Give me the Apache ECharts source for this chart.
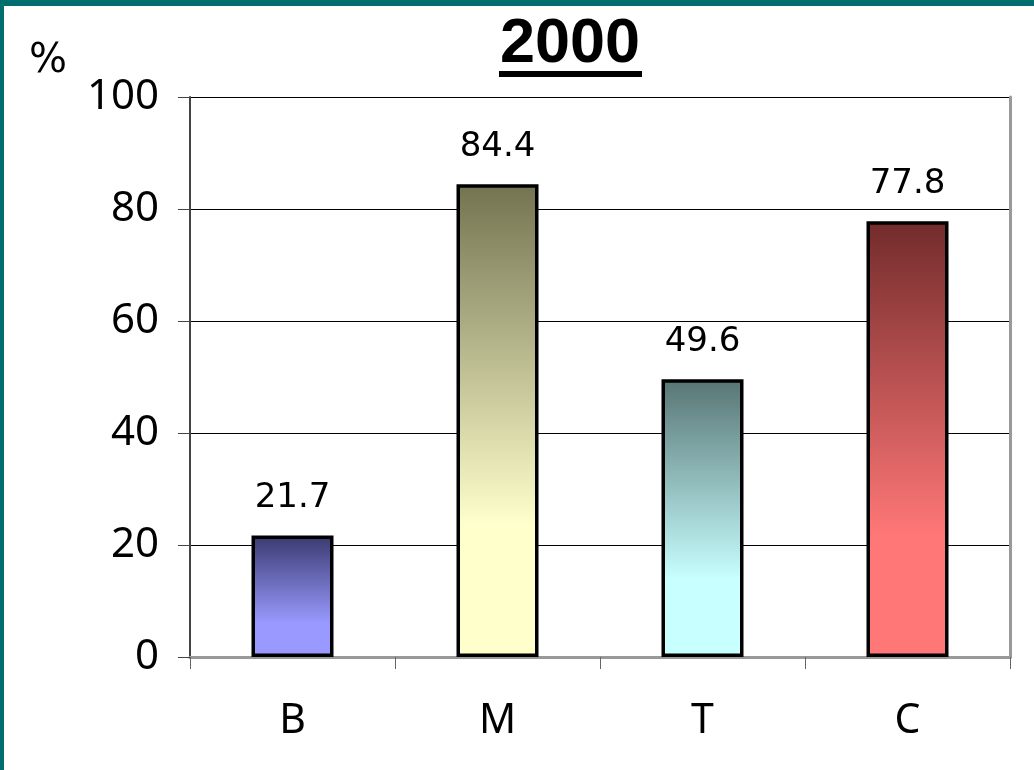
<!DOCTYPE html>
<html>
<head>
<meta charset="utf-8">
<script src="https://cdn.jsdelivr.net/npm/echarts@6/dist/echarts.min.js"></script>
<style>
    html, body {
        margin: 0;
        padding: 0;
        background: #fff;
    }
    #frame {
        width: 1030px;
        height: 764px;
        border-left: 4px solid #006e6e;
        border-top: 6px solid #006e6e;
    }
    #chart {
        width: 1030px;
        height: 764px;
    }
</style>
</head>
<body>
<div id="frame"><div id="chart"></div></div>
<script>
    var categories = ['B', 'M', 'T', 'C'];
    var values = [21.7, 84.4, 49.6, 77.8];
    var yTicks = [0, 20, 40, 60, 80, 100];
    // dark top colour, light bottom colour for each bar
    var topColors = ['#3a3a70', '#737351', '#587575', '#722b2b'];
    var bottomColors = ['#9999ff', '#ffffcc', '#c8ffff', '#ff7777'];

    var myChart = echarts.init(document.getElementById('chart'));

    var barData = values.map(function(v, i) {
        return {
            value: v,
            itemStyle: {
                color: new echarts.graphic.LinearGradient(0, 0, 0, 1, [
                    {offset: 0, color: topColors[i]},
                    {offset: 0.72, color: bottomColors[i]},
                    {offset: 1, color: bottomColors[i]}
                ])
            }
        };
    });

    var option = {
        animation: false,
        backgroundColor: '#fff',
        grid: {
            left: 186,
            top: 91,
            right: 24,
            bottom: 113
        },
        graphic: [
            {
                type: 'text',
                left: 25,
                top: 36,
                style: {
                    text: '%',
                    font: '40px "DejaVu Sans"',
                    fill: '#000'
                }
            },
            {
                type: 'text',
                x: 566,
                y: 39,
                style: {
                    text: '2000',
                    font: 'bold 63px "Liberation Sans"',
                    fill: '#000',
                    align: 'center',
                    verticalAlign: 'middle'
                }
            },
            {
                type: 'rect',
                shape: {x: 495, y: 65, width: 143, height: 6},
                style: {fill: '#000'}
            }
        ],
        xAxis: [{
            type: 'category',
            data: categories,
            axisLine: {lineStyle: {color: '#999', width: 3}},
            axisTick: {show: true, length: 12, lineStyle: {color: '#666', width: 1}},
            axisLabel: {
                margin: 44,
                color: '#000',
                fontSize: 41,
                fontFamily: 'Noto Sans'
            }
        }, {
            type: 'category',
            position: 'top',
            data: categories,
            axisLine: {lineStyle: {color: '#999', width: 3}},
            axisTick: {show: false},
            axisLabel: {show: false}
        }],
        yAxis: [{
            type: 'value',
            min: 0,
            max: 100,
            interval: 20,
            axisLine: {show: true, lineStyle: {color: '#444', width: 2}},
            axisTick: {show: true, length: 12, lineStyle: {color: '#444', width: 1}},
            splitLine: {show: true, lineStyle: {color: '#000', width: 1}},
            axisLabel: {
                margin: 31,
                color: '#000',
                fontSize: 42,
                fontFamily: 'Noto Sans',
                formatter: function(v) {
                    return yTicks.indexOf(v) >= 0 ? String(v) : '';
                }
            }
        }, {
            type: 'value',
            position: 'right',
            min: 0,
            max: 100,
            interval: 20,
            axisLine: {show: true, lineStyle: {color: '#999', width: 3}},
            axisTick: {show: false},
            splitLine: {show: false},
            axisLabel: {show: false}
        }],
        series: [{
            type: 'bar',
            data: barData,
            barWidth: 82,
            itemStyle: {
                borderColor: '#000',
                borderWidth: 3.5
            },
            label: {
                show: true,
                position: 'top',
                distance: 20,
                color: '#000',
                fontSize: 34,
                fontFamily: 'DejaVu Sans',
                formatter: function(p) {
                    return p.value.toFixed(1);
                }
            }
        }]
    };
    myChart.setOption(option);
</script>
</body>
</html>
